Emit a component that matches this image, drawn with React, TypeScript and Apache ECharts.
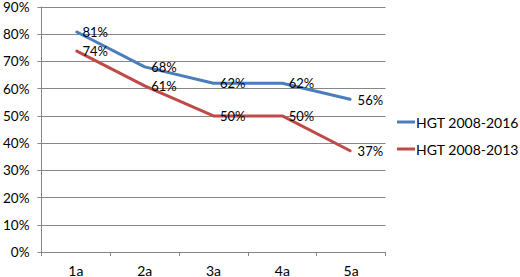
import React, { useEffect, useRef } from "react";
import * as echarts from "echarts";

const categories = ["1a", "2a", "3a", "4a", "5a"];
const series2016 = [81, 68, 62, 62, 56];
const series2013 = [74, 61, 50, 50, 37];
const seriesNames = ["HGT 2008-2016", "HGT 2008-2013"];

export default function App() {
  const ref = useRef<HTMLDivElement>(null);
  useEffect(() => {
    if (!ref.current) return;
    const chart = echarts.init(ref.current, null, { renderer: "svg" });
    const font = "Lato, 'Open Sans', sans-serif";
    const mkSeries = (name: string, data: number[], color: string) => ({
      name,
      type: "line",
      data,
      symbol: "circle",
      symbolSize: 1,
      showSymbol: true,
      lineStyle: { color, width: 3 },
      itemStyle: { color },
      label: {
        show: true,
        position: "right",
        distance: 6,
        formatter: (p: any) => p.value + "%",
        color: "#000",
        fontSize: 13,
        fontFamily: font,
      },
    });
    chart.setOption({
      animation: false,
      grid: { left: 39.5, right: 134.5, top: 5, bottom: 23.5 },
      legend: {
        orient: "vertical",
        left: 397,
        top: 115,
        padding: 0,
        itemWidth: 18,
        itemHeight: 3,
        itemGap: 13,
        icon: "rect",
        textStyle: { fontSize: 14, fontFamily: font, color: "#000", padding: [0, 0, 0, -4] },
        data: seriesNames,
      },
      xAxis: {
        type: "category",
        data: categories,
        boundaryGap: true,
        axisLine: { lineStyle: { color: "#868686", width: 1 } },
        axisTick: { show: true, length: 4, lineStyle: { color: "#868686" } },
        axisLabel: { color: "#000", fontSize: 14, fontFamily: font, margin: 11 },
      },
      yAxis: {
        type: "value",
        min: 0,
        max: 90,
        interval: 10,
        axisLine: { show: true, lineStyle: { color: "#868686" } },
        axisTick: { show: true, length: 4, lineStyle: { color: "#868686" } },
        splitLine: { lineStyle: { color: "#868686", width: 1 } },
        axisLabel: {
          color: "#000",
          fontSize: 13.5,
          fontFamily: font,
          margin: 12,
          formatter: (v: number) => v + "%",
        },
      },
      series: [
        mkSeries(seriesNames[0], series2016, "#4A7EBB"),
        mkSeries(seriesNames[1], series2013, "#BE4B48"),
      ],
    });
    return () => chart.dispose();
  }, []);
  return (
    <div
      ref={ref}
      style={{ width: 520, height: 277, position: "absolute", left: 0, top: 0 }}
    />
  );
}
